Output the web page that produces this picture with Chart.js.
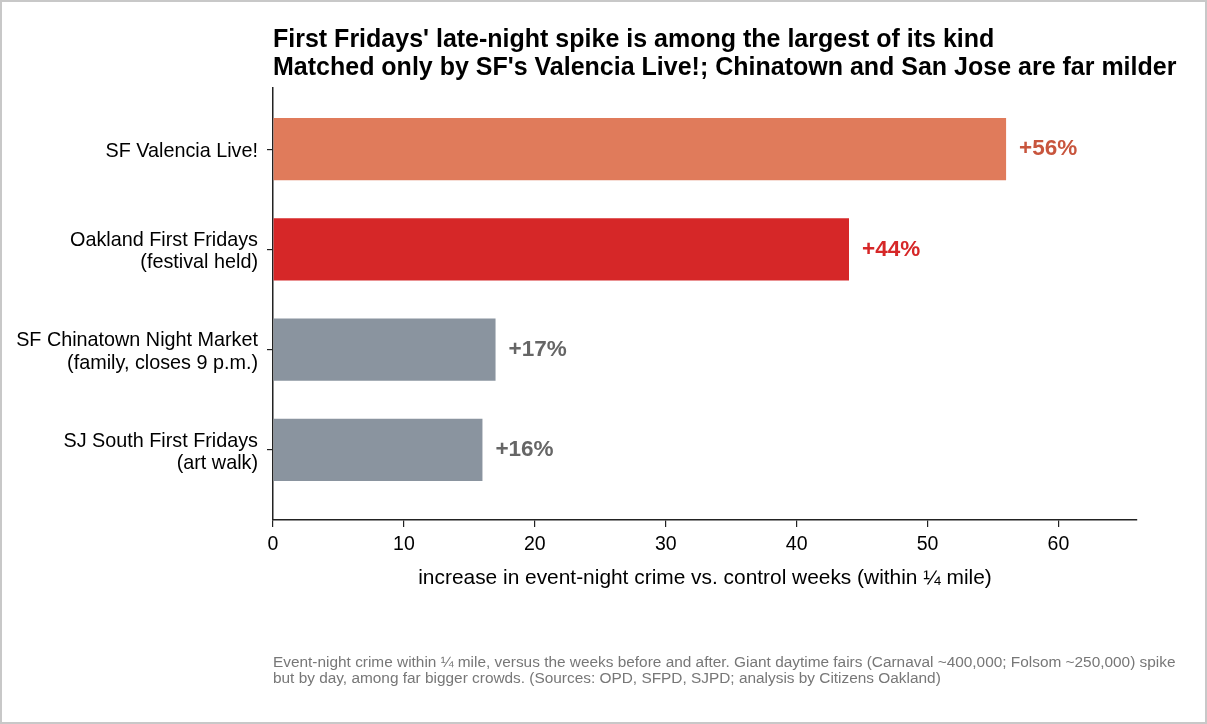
<!DOCTYPE html>
<html>
<head>
<meta charset="utf-8">
<script src="https://cdn.jsdelivr.net/npm/chart.js@4.4.1/dist/chart.umd.min.js"></script>
<style>
  body { margin: 0; background: #fff; }
  #wrap { width: 1207px; height: 724px; box-sizing: border-box; border: 2px solid #c8c8c8; }
  canvas { display: block; }
</style>
</head>
<body>
<div id="wrap"><canvas id="barChart" width="1203" height="720"></canvas></div>
<script>
const FONT = '"Liberation Sans", Arial, sans-serif';

const events = [
  ["SF Valencia Live!"],
  ["Oakland First Fridays", "(festival held)"],
  ["SF Chinatown Night Market", "(family, closes 9 p.m.)"],
  ["SJ South First Fridays", "(art walk)"],
];
const increases = [56, 44, 17, 16];
const barColors = ["#e07b5b", "#d62728", "#8a949f", "#8a949f"];
const labelColors = ["#c8553d", "#d62728", "#666666", "#666666"];
const xTicks = [0, 10, 20, 30, 40, 50, 60];

const titleLines = [
  "First Fridays' late-night spike is among the largest of its kind",
  "Matched only by SF's Valencia Live!; Chinatown and San Jose are far milder",
];
const noteLines = [
  "Event-night crime within \u00bc mile, versus the weeks before and after. Giant daytime fairs (Carnaval ~400,000; Folsom ~250,000) spike",
  "but by day, among far bigger crowds. (Sources: OPD, SFPD, SJPD; analysis by Citizens Oakland)",
];

const ctx = document.getElementById("barChart").getContext("2d");

// bar end labels like "+56%"
const valueLabels = {
  id: "valueLabels",
  afterDatasetsDraw(chart) {
    const c = chart.ctx;
    const meta = chart.getDatasetMeta(0);
    c.save();
    c.font = `bold 22.5px ${FONT}`;
    c.textAlign = "left";
    c.textBaseline = "middle";
    meta.data.forEach((bar, i) => {
      c.fillStyle = labelColors[i];
      c.fillText(`+${increases[i]}%`, bar.x + 13, bar.y);
    });
    c.restore();
  },
};

// headline above, source note below, both starting at the plot's left edge
const textBlocks = {
  id: "textBlocks",
  afterDraw(chart) {
    const c = chart.ctx;
    const left = chart.chartArea.left;
    c.save();
    c.textAlign = "left";
    c.textBaseline = "alphabetic";
    c.fillStyle = "#000";
    c.font = `bold 25px ${FONT}`;
    titleLines.forEach((t, i) => c.fillText(t, left, 45 + i * 28));
    c.fillStyle = "#777";
    c.font = `15.4px ${FONT}`;
    noteLines.forEach((t, i) => c.fillText(t, left, 664.5 + i * 16.3));
    c.restore();
  },
};

new Chart(ctx, {
  type: "bar",
  data: {
    datasets: [{
      data: increases.map((v, i) => ({ x: v, y: i })),
      backgroundColor: barColors,
      borderWidth: 0,
      categoryPercentage: 1,
      barPercentage: 0.62,
    }],
  },
  options: {
    indexAxis: "y",
    responsive: false,
    animation: false,
    layout: { padding: { top: 86, right: 68, bottom: 131, left: 0 } },
    plugins: {
      legend: { display: false },
      tooltip: { enabled: false },
    },
    scales: {
      x: {
        type: "linear",
        min: 0,
        max: 66,
        afterBuildTicks: (scale) => { scale.ticks = xTicks.map((v) => ({ value: v })); },
        afterFit: (scale) => { scale.height = 71; },
        grid: { drawOnChartArea: false, tickLength: 7, color: "#222", lineWidth: 1.2 },
        border: { color: "#222", width: 1.5 },
        ticks: { color: "#000", padding: 6, font: { family: FONT, size: 19.5 } },
        title: {
          display: true,
          text: "increase in event-night crime vs. control weeks (within \u00bc mile)",
          color: "#000",
          padding: 0,
          font: { family: FONT, size: 20.9 },
        },
      },
      y: {
        type: "linear",
        reverse: true,
        offset: false,
        min: -0.61,
        max: 3.7,
        afterBuildTicks: (scale) => { scale.ticks = events.map((_, i) => ({ value: i })); },
        afterFit: (scale) => { scale.width = 271; },
        grid: { offset: false, drawOnChartArea: false, tickLength: 6, color: "#222", lineWidth: 1.2 },
        border: { color: "#222", width: 1.5 },
        ticks: {
          color: "#000",
          padding: 9,
          labelOffset: 2.5,
          font: { family: FONT, size: 19.8, lineHeight: 1.12 },
          callback: (v) => events[v] || "",
        },
      },
    },
  },
  plugins: [valueLabels, textBlocks],
});
</script>
</body>
</html>
